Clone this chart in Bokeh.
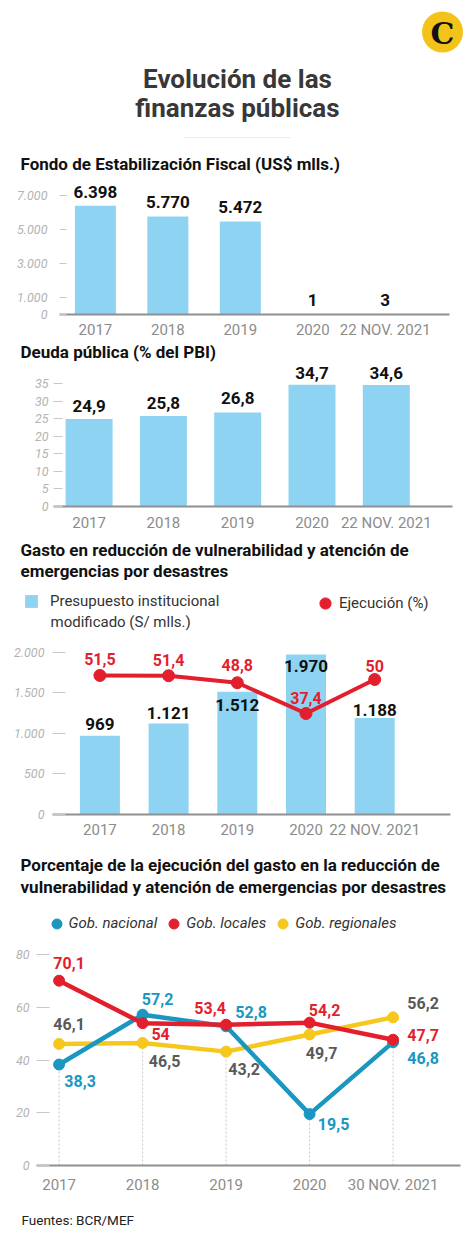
import numpy as np
from bokeh.plotting import figure
from bokeh.layouts import column
from bokeh.models import (Range1d, ColumnDataSource, LabelSet, FixedTicker,
                          Legend, LegendItem)
from bokeh.core.properties import value
from bokeh.embed import file_html
from bokeh.resources import INLINE

# ---------------- data ----------------
main_title = ["Evolución de las", "finanzas públicas"]

fef_title = "Fondo de Estabilización Fiscal (US$ mlls.)"
fef_cats = ["2017", "2018", "2019", "2020", "22 NOV. 2021"]
fef_values = [6398, 5770, 5472, 1, 3]
fef_ticks = [0, 1000, 3000, 5000, 7000]

deuda_title = "Deuda pública (% del PBI)"
deuda_cats = ["2017", "2018", "2019", "2020", "22 NOV. 2021"]
deuda_values = [24.9, 25.8, 26.8, 34.7, 34.6]
deuda_ticks = [0, 5, 10, 15, 20, 25, 30, 35]

gasto_title = ["Gasto en reducción de vulnerabilidad y atención de",
               "emergencias por desastres"]
gasto_cats = ["2017", "2018", "2019", "2020", "22 NOV. 2021"]
gasto_pim = [969, 1121, 1512, 1970, 1188]
gasto_ejec = [51.5, 51.4, 48.8, 37.4, 50]
gasto_ticks = [0, 500, 1000, 1500, 2000]
gasto_legend = ["Presupuesto institucional", "modificado (S/ mlls.)", "Ejecución (%)"]

pct_title = ["Porcentaje de la ejecución del gasto en la reducción de",
             "vulnerabilidad y atención de emergencias por desastres"]
pct_cats = ["2017", "2018", "2019", "2020", "30 NOV. 2021"]
pct_nacional = [38.3, 57.2, 52.8, 19.5, 46.8]
pct_locales = [70.1, 54, 53.4, 54.2, 47.7]
pct_regionales = [46.1, 46.5, 43.2, 49.7, 56.2]
pct_series = ["Gob. nacional", "Gob. locales", "Gob. regionales"]
pct_ticks = [0, 20, 40, 60, 80]

source_note = "Fuentes: BCR/MEF"

# ---------------- styles ----------------
FONT = "Roboto"
BAR = "#8fd3f2"
RED = "#e31e2d"
BLUE = "#1a97c1"
YELLOW = "#f6c71c"
GRAYLAB = "#595959"
XLAB = "#8c8c8c"
TICKLAB = "#b3b3b3"
PAGE_W = 474
OFF = 0


def fmt(v):
    if float(v).is_integer():
        return f"{int(v):,}".replace(",", ".")
    return str(v).replace(".", ",")


def strip(y0, y1):
    """text / legend band; its ranges are page pixels"""
    s = figure(width=PAGE_W, height=y1 - y0, x_range=Range1d(OFF, OFF + PAGE_W),
               y_range=Range1d(y1, y0), x_axis_type=None, y_axis_type=None,
               min_border=0, frame_align=False, output_backend="svg", toolbar_location=None)
    s.outline_line_color = None
    s.xgrid.visible = False
    s.ygrid.visible = False
    return s


def heading(s, px, py, text, size="17px", style="bold", color="#111111", align="left",
            font=FONT):
    s.text([px], [py], text=[text], text_font=value(font), text_font_style=style,
           text_font_size=size, text_color=color, text_align=align, text_baseline="middle")


def chart_fig(y0, y1, fl, fr, ft, fb, c0, ppx, ppy):
    """page span y0..y1, frame fl..fr / ft..fb (page px), first category centre c0,
    px per category ppx, px per y unit ppy"""
    xr = Range1d(-(c0 - fl) / ppx, (fr - c0) / ppx)
    yr = Range1d(0, (fb - ft) / ppy)
    p = figure(width=PAGE_W, height=y1 - y0, frame_width=fr - fl, frame_height=fb - ft,
               min_border_left=fl - OFF, min_border_right=OFF + PAGE_W - fr,
               min_border_top=ft - y0, min_border_bottom=y1 - fb, frame_align=False,
               x_range=xr, y_range=yr, output_backend="svg", toolbar_location=None)
    p.outline_line_color = None
    p.xgrid.visible = False
    p.ygrid.visible = False
    return p


def style_axes(p, cats, ticks, tick_in, standoff, xstandoff):
    xa = p.xaxis[0]
    xa.ticker = FixedTicker(ticks=list(range(len(cats))))
    xa.major_label_overrides = {i: c for i, c in enumerate(cats)}
    xa.major_tick_line_color = None
    xa.major_tick_in = 0
    xa.major_tick_out = 0
    xa.minor_tick_line_color = None
    xa.minor_tick_out = 0
    xa.axis_line_color = "#8f8f8f"
    xa.axis_line_width = 2
    xa.major_label_standoff = xstandoff
    xa.major_label_text_font = FONT
    xa.major_label_text_font_size = "15px"
    xa.major_label_text_color = XLAB
    ya = p.yaxis[0]
    ya.ticker = FixedTicker(ticks=ticks)
    ya.major_label_overrides = {t: fmt(t) for t in ticks}
    ya.axis_line_color = None
    ya.major_tick_in = tick_in
    ya.major_tick_out = 0
    ya.minor_tick_out = 0
    ya.major_tick_line_color = "#c8c8c8"
    ya.minor_tick_line_color = None
    ya.major_label_standoff = standoff
    ya.major_label_text_font = FONT
    ya.major_label_text_font_style = "italic"
    ya.major_label_text_font_size = "12.5px"
    ya.major_label_text_color = TICKLAB


def values_labels(p, xs, ys, texts, dx, dy, color="#111111", size="17px", y_range_name="default"):
    src = ColumnDataSource(dict(x=xs, y=ys, t=texts, dx=dx, dy=dy))
    p.add_layout(LabelSet(x="x", y="y", text="t", x_offset="dx", y_offset="dy", source=src,
                          text_font=value(FONT), text_font_size=value(size),
                          text_font_style="bold", text_color=color, text_align="center",
                          text_baseline="middle", y_range_name=y_range_name))


leg_kw = dict(padding=0, margin=0, border_line_color=None, background_fill_alpha=0,
              label_text_font=FONT, label_text_font_size="15px", label_text_color="#333333")
HIDDEN = [-1000]   # legend proxy glyphs sit outside the visible band

# ---------------- header ----------------
h = strip(0, 178)
h.scatter([442], [31.5], size=41, fill_color="#f3c31a", line_color=None)
heading(h, 442, 33, "C", size="30px", color="#111111", align="center", font="DejaVu Serif")
h.text([237, 237], [78, 107], text=main_title, text_font=value(FONT), text_font_style="bold",
       text_font_size="26px", text_color="#383838", text_align="center", text_baseline="middle")
h.segment([184], [137], [290], [137], line_color="#ececec", line_width=1)
heading(h, 20, 163, fef_title)

# ---------------- chart 1 ----------------
x1 = np.arange(len(fef_cats))
p1 = chart_fig(178, 340, 59, 449, 181, 314, 94.9, 72.45, 0.017)
style_axes(p1, fef_cats, fef_ticks, 7, 12, 6)
p1.vbar(x=x1, top=fef_values, width=41 / 72.45, bottom=0, fill_color=BAR, line_color=None)
values_labels(p1, x1, fef_values, [fmt(v) for v in fef_values], [0] * 5, [14] * 5)

# ---------------- chart 2 ----------------
s2 = strip(340, 361)
heading(s2, 20, 350.5, deuda_title)

x2 = np.arange(len(deuda_cats))
p2 = chart_fig(361, 535, 53, 452, 361, 505, 88.6, 74.3, 3.51)
style_axes(p2, deuda_cats, deuda_ticks, 9, 5, 7)
p2.vbar(x=x2, top=deuda_values, width=47 / 74.3, bottom=0, fill_color=BAR, line_color=None)
values_labels(p2, x2, deuda_values, [fmt(v) for v in deuda_values], [0] * 5, [13, 13, 14, 12, 12])

# ---------------- chart 3 ----------------
s3 = strip(535, 640)
heading(s3, 20, 548, gasto_title[0])
heading(s3, 20, 569, gasto_title[1])
lg_bar = s3.vbar(x=HIDDEN, top=HIDDEN, width=1, fill_color=BAR, line_color=None)
lg_dot = s3.scatter(x=HIDDEN, y=HIDDEN, size=12, fill_color=RED, line_color=RED)
s3.add_layout(Legend(items=[LegendItem(label=gasto_legend[0], renderers=[lg_bar])],
                     location=(23 - OFF, 640 - 609), glyph_width=16, glyph_height=16,
                     label_standoff=11, label_height=16, **leg_kw))
s3.add_layout(Legend(items=[LegendItem(label=gasto_legend[2], renderers=[lg_dot])],
                     location=(311 - OFF, 640 - 617), glyph_width=28, glyph_height=30,
                     label_standoff=0, **leg_kw))
heading(s3, 50, 620, gasto_legend[1], size="15px", style="normal", color="#333333")

x3 = np.arange(len(gasto_cats))
p3 = chart_fig(640, 840, 52, 450, 640, 813, 99.4, 68.7, 0.0812)
p3.extra_y_ranges = {"pct": Range1d(0, (813 - 640) / 2.7)}
style_axes(p3, gasto_cats, gasto_ticks, 13, 8, 6)
p3.vbar(x=x3, top=gasto_pim, width=40 / 68.7, bottom=0, fill_color=BAR, line_color=None)
p3.line(x=x3, y=gasto_ejec, line_color=RED, line_width=4, y_range_name="pct")
p3.scatter(x=x3, y=gasto_ejec, size=12, fill_color=RED, line_color=RED, y_range_name="pct")
values_labels(p3, x3, gasto_pim, [fmt(v) for v in gasto_pim], [0] * 5, [12, 10, -13, -11, 8])
values_labels(p3, x3, gasto_ejec, [fmt(v) for v in gasto_ejec], [0] * 5, [16, 16, 18, 16, 14],
              color=RED, size="16px", y_range_name="pct")

# ---------------- chart 4 ----------------
s4 = strip(840, 940)
heading(s4, 20, 863, pct_title[0])
heading(s4, 20, 885, pct_title[1])
lg = [s4.scatter(x=HIDDEN, y=HIDDEN, size=10, fill_color=c, line_color=c)
      for c in (BLUE, RED, YELLOW)]
s4.add_layout(Legend(items=[LegendItem(label=lab, renderers=[r]) for lab, r in zip(pct_series, lg)],
                     orientation="horizontal", location=(43.5 - OFF, 940 - 934.5),
                     glyph_width=25, glyph_height=25, label_standoff=0, spacing=4,
                     label_text_font_style="italic", **leg_kw))

x4 = np.arange(len(pct_cats))
p4 = chart_fig(940, 1200, 36, 460, 940, 1164, 58.6, 83.5, 2.636)
style_axes(p4, pct_cats, pct_ticks, 13, 7, 10)
low = np.minimum(np.minimum(pct_nacional, pct_locales), pct_regionales)
p4.segment(x0=x4, y0=np.zeros(len(x4)), x1=x4, y1=low, line_color="#c8c8c8",
           line_width=1, line_dash="2 2")
for vals, col in [(pct_regionales, YELLOW), (pct_nacional, BLUE), (pct_locales, RED)]:
    p4.line(x=x4, y=vals, line_color=col, line_width=4.5)
    p4.scatter(x=x4, y=vals, size=11, fill_color=col, line_color=col)
values_labels(p4, x4, pct_nacional, [fmt(v) for v in pct_nacional],
              [21, 15, 25, 24, 30], [-16, 16, 14, -10, -16], color=BLUE, size="16px")
values_labels(p4, x4, pct_locales, [fmt(v) for v in pct_locales],
              [10, 18, -16, 15, 30], [18, -11, 17, 13, 5], color=RED, size="16px")
values_labels(p4, x4, pct_regionales, [fmt(v) for v in pct_regionales],
              [10, 22, 18, 12, 30], [20, -18, -17, -19, 14], color=GRAYLAB, size="16px")

s5 = strip(1200, 1239)
heading(s5, 21, 1218, source_note, size="13.5px", style="normal", color="#222222")

layout = column(h, p1, s2, p2, s3, p3, s4, p4, s5, spacing=0)
open("out.html", "w").write(file_html(layout, INLINE))
